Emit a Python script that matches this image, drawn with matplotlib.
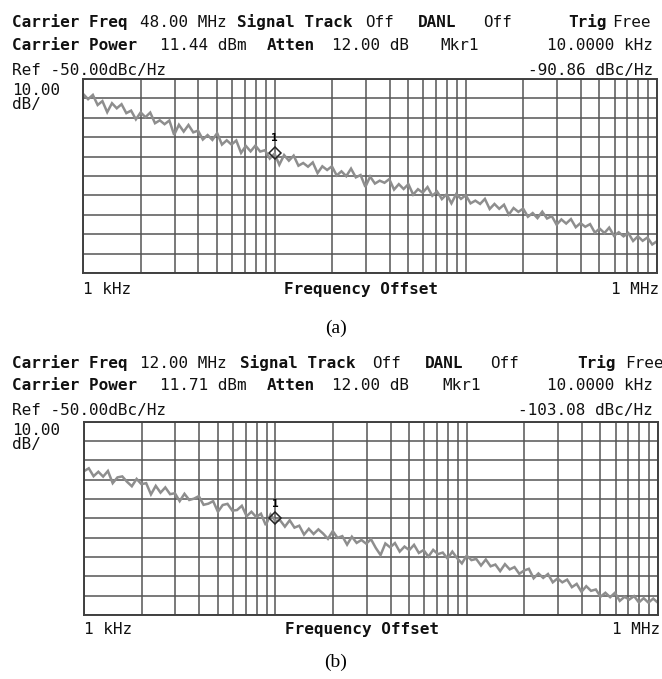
import numpy as np
import matplotlib.pyplot as plt

W, H = 662, 679

# analyzer sweep points, log spaced from 1 kHz to 1 MHz offset
freq = np.logspace(3, 6, 121)

# phase noise trace (a), carrier 48 MHz, dBc/Hz
trace_a = [
    -57.8, -60.4, -58.2, -63.4, -61.4, -67.1, -62.5, -65.1, -63.0, -67.6,
    -66.3, -70.8, -67.2, -69.7, -67.3, -72.8, -71.3, -73.3, -71.4, -78.8,
    -73.6, -77.1, -73.7, -77.5, -76.6, -81.2, -78.9, -81.4, -77.9, -83.8,
    -81.6, -83.8, -81.7, -88.1, -84.5, -87.3, -84.3, -87.4, -86.7, -91.0,
    -88.5, -94.2, -89.2, -92.1, -89.5, -94.7, -93.3, -95.2, -93.0, -98.5,
    -95.0, -96.9, -95.0, -99.7, -97.6, -100.1, -96.2, -100.7, -99.5, -105.6,
    -100.3, -103.9, -102.4, -103.5, -101.6, -107.0, -104.2, -106.7, -104.2, -109.6,
    -106.8, -108.6, -105.7, -110.2, -108.0, -111.9, -109.4, -114.1, -109.3, -111.8,
    -109.9, -114.1, -112.7, -114.4, -111.8, -117.0, -114.4, -116.9, -114.8, -119.9,
    -116.5, -118.5, -116.8, -121.0, -119.1, -121.7, -118.4, -121.9, -120.7, -125.1,
    -122.4, -124.5, -122.2, -126.4, -124.3, -126.2, -124.8, -129.2, -127.1, -129.4,
    -126.6, -130.8, -129.0, -131.1, -129.4, -133.5, -131.1, -133.4, -131.7, -135.3,
    -133.6,
]

# phase noise trace (b), carrier 12 MHz, dBc/Hz
trace_b = [
    -75.6, -74.1, -78.2, -75.9, -78.4, -75.5, -81.8, -78.8, -78.3, -81.1,
    -83.4, -79.6, -82.3, -81.8, -87.6, -83.2, -86.7, -84.0, -87.5, -87.0,
    -91.1, -87.3, -90.5, -89.8, -88.5, -93.0, -92.4, -91.1, -96.6, -93.1,
    -92.5, -96.0, -95.7, -93.5, -98.9, -96.6, -99.3, -97.6, -103.5, -98.0,
    -101.3, -101.0, -104.3, -101.0, -104.8, -103.8, -108.4, -105.4, -108.1, -105.7,
    -107.9, -110.6, -106.6, -110.1, -109.2, -113.6, -109.5, -112.7, -111.2, -113.1,
    -110.8, -115.3, -119.0, -113.0, -115.0, -112.8, -117.2, -114.6, -116.4, -113.7,
    -117.9, -116.4, -119.8, -116.3, -118.5, -117.7, -120.8, -117.2, -120.6, -123.3,
    -119.3, -121.6, -121.0, -124.4, -121.3, -124.8, -123.9, -127.3, -123.7, -126.4,
    -125.2, -128.7, -127.0, -126.1, -131.0, -128.5, -130.8, -128.8, -133.1, -131.1,
    -133.1, -131.7, -135.6, -133.9, -138.0, -135.1, -137.5, -136.8, -140.5, -138.5,
    -140.8, -138.5, -142.7, -140.6, -142.0, -140.2, -143.5, -141.3, -143.6, -141.5,
    -143.7,
]

# marker 1 at 10 kHz (position as drawn on screen)
marker_freq = 1e4
marker_a = -88.0
marker_b = -100.0

carrier_freq = ["48.00 MHz", "12.00 MHz"]
carrier_power = ["11.44 dBm", "11.71 dBm"]
marker_read = ["-90.86 dBc/Hz", "-103.08 dBc/Hz"]

fig = plt.figure(figsize=(W / 100, H / 100), dpi=100)
fig.patch.set_facecolor('white')

MONO = 'DejaVu Sans Mono'
FS = 11.5


def px(x, y):
    return x / W, 1 - y / H


def txt(x, y, s, bold=False, ha='left', size=FS):
    fig.text(*px(x, y), s, ha=ha, va='baseline', family=MONO, size=size,
             weight='bold' if bold else 'normal', color='#111111')


def draw_panel(top, bottom, left, right, trace, mk_db, k, xs, rows):
    ax = fig.add_axes([left / W, 1 - bottom / H, (right - left) / W, (bottom - top) / H])
    ax.set_xscale('log')
    ax.set_xlim(1e3, 1e6)
    ax.set_ylim(-150, -50)
    ax.set_yticks(np.arange(-150, -49, 10))
    ax.grid(True, which='both', color='#555555', lw=1.1)
    ax.set_axisbelow(True)
    ax.tick_params(which='both', length=0, labelbottom=False, labelleft=False)
    for s in ax.spines.values():
        s.set_color('#404040')
        s.set_linewidth(1.4)

    ax.plot(freq, trace, color='#8e8e8e', lw=1.8, solid_joinstyle='miter')
    ax.plot(marker_freq, mk_db, marker='D', ms=6, mfc='none', mec='#222222', mew=1.1)
    ax.annotate('1', (marker_freq, mk_db), xytext=(0, 7), textcoords='offset points',
                ha='center', va='bottom', fontsize=8, fontweight='bold', family=MONO)

    # header lines
    r1, r2, r3, r4, r5, rb = rows
    txt(12, r1, "Carrier Freq", bold=True)
    txt(140, r1, carrier_freq[k])
    txt(xs[0], r1, "Signal Track", bold=True)
    txt(xs[1], r1, "Off")
    txt(xs[2], r1, "DANL", bold=True)
    txt(xs[3], r1, "Off")
    txt(xs[4], r1, "Trig", bold=True)
    txt(xs[5], r1, "Free")
    txt(12, r2, "Carrier Power", bold=True)
    txt(160, r2, carrier_power[k])
    txt(267, r2, "Atten", bold=True)
    txt(332, r2, "12.00 dB")
    txt(xs[6], r2, "Mkr1")
    txt(653, r2, "10.0000 kHz", ha='right')
    txt(12, r3, "Ref -50.00dBc/Hz")
    txt(653, r3, marker_read[k], ha='right')
    txt(12, r4, "10.00")
    txt(12, r5, "dB/")
    # x axis annotations
    txt(left, rb, "1 kHz")
    txt((left + right) / 2 - 9, rb, "Frequency Offset", bold=True, ha='center')
    txt(right + 2, rb, "1 MHz", ha='right')
    return ax


draw_panel(79, 273, 83.3, 657, trace_a, marker_a, 0,
           [237, 365, 418, 483, 568, 612, 440],
           [27, 50, 75, 95, 109, 294])
draw_panel(421.7, 615, 84, 658, trace_b, marker_b, 1,
           [240, 372, 425, 490, 577, 625, 442],
           [368, 390, 415, 435, 449, 634])

fig.text(*px(336, 328), "(a)", ha='center', va='center', family='Liberation Serif', size=14)
fig.text(*px(336, 662), "(b)", ha='center', va='center', family='Liberation Serif', size=14)

fig.savefig('out.png', dpi=100)
